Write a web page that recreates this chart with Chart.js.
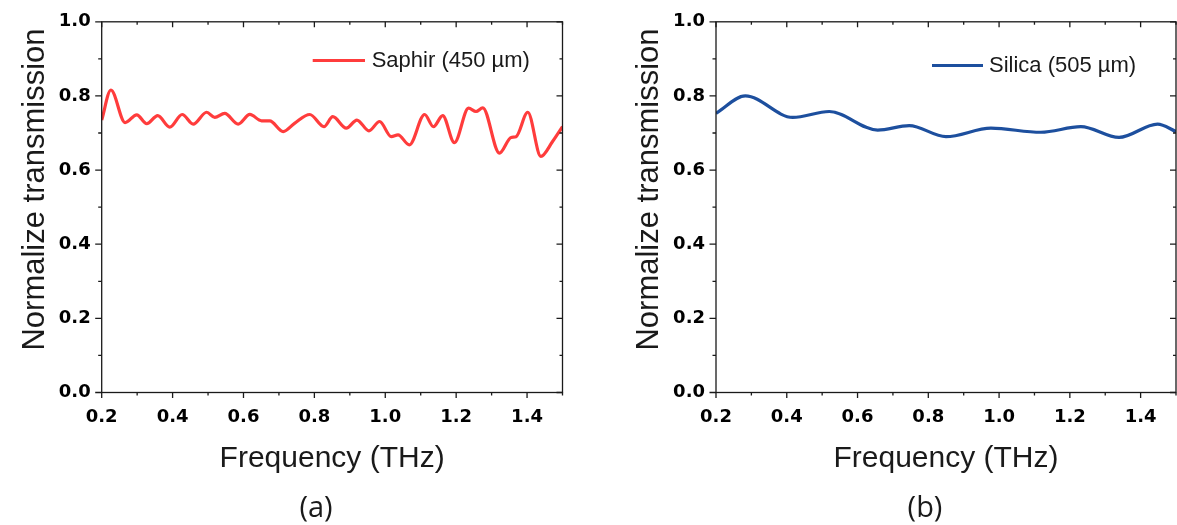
<!DOCTYPE html>
<html><head><meta charset="utf-8">
<script src="https://cdn.jsdelivr.net/npm/chart.js@4.4.1/dist/chart.umd.min.js"></script>
<style>
html,body{margin:0;padding:0;background:#fff;width:1177px;height:525px;overflow:hidden}
#wa{position:absolute;left:0;top:0;width:590px;height:525px}
#wb{position:absolute;left:590px;top:0;width:587px;height:525px}
</style></head><body>
<div id="wa"><canvas id="ca"></canvas></div>
<div id="wb"><canvas id="cb"></canvas></div>
<script>
// ---- data ----
const freqA  = [0.200,0.226,0.266,0.299,0.327,0.358,0.392,0.427,0.458,0.496,0.519,0.547,0.585,0.618,0.651,0.674,0.712,0.744,0.787,0.827,0.852,0.890,0.920,0.954,0.984,1.017,1.036,1.068,1.111,1.136,1.162,1.195,1.235,1.256,1.275,1.322,1.355,1.369,1.402,1.439,1.472,1.500];
const transA = [0.735,0.816,0.728,0.749,0.725,0.747,0.716,0.750,0.724,0.756,0.742,0.753,0.724,0.750,0.733,0.733,0.704,0.726,0.750,0.717,0.744,0.713,0.735,0.706,0.731,0.690,0.695,0.668,0.750,0.717,0.747,0.674,0.767,0.758,0.768,0.646,0.688,0.690,0.756,0.637,0.677,0.717];
const freqB  = [0.200,0.283,0.417,0.520,0.657,0.746,0.850,0.977,1.118,1.231,1.339,1.448,1.500];
const transB = [0.753,0.800,0.742,0.758,0.708,0.720,0.690,0.713,0.702,0.717,0.688,0.724,0.704];
const labelA = 'Saphir (450 µm)';
const labelB = 'Silica (505 µm)';
const xTickValues = [0.2,0.4,0.6,0.8,1.0,1.2,1.4];
const yTickValues = [0.0,0.2,0.4,0.6,0.8,1.0];
const xTitle = 'Frequency (THz)';
const yTitle = 'Normalize transmission';
const panelA = '(a)', panelB = '(b)';

Chart.defaults.devicePixelRatio = 1;

const framePlugin = {
  id: 'frame',
  afterDraw(chart) {
    const g = chart.options.plugins.frame;
    const ctx = chart.ctx, a = chart.chartArea;
    const xs = chart.scales.x, ys = chart.scales.y;
    ctx.save();
    ctx.strokeStyle = '#1a1a1a';
    ctx.lineWidth = 1.3;
    ctx.strokeRect(a.left, a.top, a.right - a.left, a.bottom - a.top);
    ctx.beginPath();
    const xMaj = xTickValues, yMaj = yTickValues;
    const xMin = xMaj.map(v => v + 0.1).filter(v => v <= xs.max + 1e-9);
    const yMin = yMaj.map(v => v + 0.1).filter(v => v <= ys.max + 1e-9);
    xMaj.forEach(v => { const p = xs.getPixelForValue(v);
      ctx.moveTo(p, a.bottom); ctx.lineTo(p, a.bottom + 5.5);
      ctx.moveTo(p, a.top); ctx.lineTo(p, a.top + 5.5); });
    xMin.forEach(v => { const p = xs.getPixelForValue(v);
      ctx.moveTo(p, a.bottom); ctx.lineTo(p, a.bottom + 3);
      ctx.moveTo(p, a.top); ctx.lineTo(p, a.top + 3); });
    yMaj.forEach(v => { const p = ys.getPixelForValue(v);
      ctx.moveTo(a.left - 6.5, p); ctx.lineTo(a.left, p);
      ctx.moveTo(a.right - 6, p); ctx.lineTo(a.right, p); });
    yMin.forEach(v => { const p = ys.getPixelForValue(v);
      ctx.moveTo(a.left - 3.5, p); ctx.lineTo(a.left, p);
      ctx.moveTo(a.right - 3, p); ctx.lineTo(a.right, p); });
    ctx.stroke();

    // legend
    const ds = chart.data.datasets[0];
    ctx.strokeStyle = ds.borderColor; ctx.lineWidth = 3;
    ctx.beginPath(); ctx.moveTo(g.legX1, g.legY); ctx.lineTo(g.legX2, g.legY); ctx.stroke();
    ctx.fillStyle = '#1a1a1a';
    ctx.font = '22px "Liberation Sans", Arial, sans-serif';
    ctx.textAlign = 'left'; ctx.textBaseline = 'middle';
    ctx.fillText(ds.label, g.legTx, g.legY);

    // axis titles
    ctx.font = '30px "Liberation Sans", Arial, sans-serif';
    ctx.textAlign = 'center'; ctx.textBaseline = 'alphabetic';
    ctx.fillText(xTitle, (a.left + a.right) / 2, 466.7);
    ctx.save();
    ctx.translate(a.left - 66.7, 189.5);
    ctx.rotate(-Math.PI / 2);
    ctx.font = '31px "Liberation Sans", Arial, sans-serif';
    ctx.textBaseline = 'middle';
    ctx.fillText(yTitle, 0, 0);
    ctx.restore();

    // panel label
    ctx.font = '29px "Open Sans", Lato, sans-serif';
    ctx.textAlign = 'center'; ctx.textBaseline = 'alphabetic';
    ctx.fillText(g.panel, g.panelX, 517.3);
    ctx.restore();
  }
};

function makeChart(id, freq, trans, label, color, g) {
  const el = document.getElementById(id);
  const W = el.parentNode.clientWidth, H = el.parentNode.clientHeight;
  return new Chart(el, {
    type: 'line',
    data: { datasets: [{
      label: label,
      data: freq.map((f, i) => ({ x: f, y: trans[i] })),
      borderColor: color, borderWidth: 3.2,
      pointRadius: 0, fill: false,
      cubicInterpolationMode: 'monotone'
    }]},
    options: {
      responsive: true, maintainAspectRatio: false, animation: false,
      layout: { padding: { left: 0, top: g.top, right: W - g.right, bottom: 0 } },
      plugins: { legend: { display: false }, tooltip: { enabled: false }, frame: g },
      scales: {
        x: {
          type: 'linear', min: 0.2, max: 1.5,
          grid: { display: false, drawTicks: false }, border: { display: false },
          afterFit: s => { s.height = H - g.bottom; },
          afterBuildTicks: s => { s.ticks = xTickValues.map(v => ({ value: v })); },
          ticks: { padding: 14, maxRotation: 0, autoSkip: false, color: '#000',
            font: { family: 'DejaVu Sans', size: 18, weight: 'bold' },
            callback: v => Number(v).toFixed(1) }
        },
        y: {
          type: 'linear', min: 0, max: 1.0,
          grid: { display: false, drawTicks: false }, border: { display: false },
          afterFit: s => { s.width = g.left; },
          afterBuildTicks: s => { s.ticks = yTickValues.map(v => ({ value: v })); },
          ticks: { padding: 11, color: '#000',
            font: { family: 'DejaVu Sans', size: 18, weight: 'bold' },
            callback: v => Number(v).toFixed(1) }
        }
      }
    },
    plugins: [framePlugin]
  });
}

makeChart('ca', freqA, transA, labelA, '#ff3c3c',
  { left: 101.7, right: 562.5, top: 20.5, bottom: 392.5,
    legX1: 312.7, legX2: 365, legY: 60.5, legTx: 371.7, panel: panelA, panelX: 316 });
makeChart('cb', freqB, transB, labelB, '#1d4f9e',
  { left: 126, right: 586, top: 20.5, bottom: 392.5,
    legX1: 342, legX2: 393, legY: 65.5, legTx: 399, panel: panelB, panelX: 335 });
</script>
</body></html>
